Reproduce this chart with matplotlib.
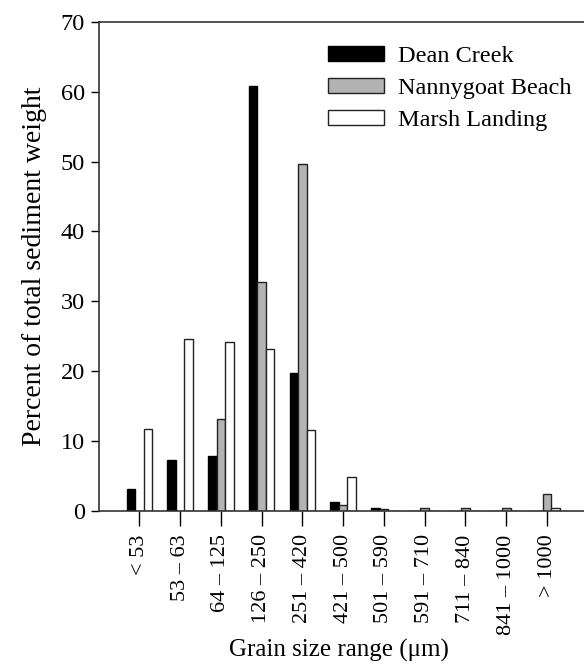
import numpy as np
import matplotlib
matplotlib.use("Agg")
import matplotlib.pyplot as plt

plt.rcParams['font.family'] = ['Liberation Serif', 'DejaVu Serif']

# Grain size classes (um) and percent of total sediment weight
categories = ["< 53", "53 – 63", "64 – 125", "126 – 250", "251 – 420",
              "421 – 500", "501 – 590", "591 – 710", "711 – 840",
              "841 – 1000", "> 1000"]
dean_creek = [3.1, 7.2, 7.9, 60.8, 19.7, 1.25, 0.4, 0.0, 0.0, 0.0, 0.0]
nannygoat_beach = [0.0, 0.0, 13.2, 32.8, 49.7, 0.8, 0.3, 0.4, 0.4, 0.4, 2.4]
marsh_landing = [11.7, 24.6, 24.1, 23.1, 11.5, 4.9, 0.0, 0.0, 0.0, 0.0, 0.4]

x = np.arange(len(categories))
width = 0.21

fig = plt.figure(figsize=(5.84, 6.69), dpi=100)
ax = fig.add_axes([0.1695, 0.2366, 0.83, 0.7305])

ax.bar(x - width, dean_creek, width, color='black', edgecolor='black',
       linewidth=1, label='Dean Creek')
ax.bar(x, nannygoat_beach, width, color='#b3b3b3', edgecolor='#222222',
       linewidth=1, label='Nannygoat Beach')
ax.bar(x + width, marsh_landing, width, color='white', edgecolor='#222222',
       linewidth=1, label='Marsh Landing')

ax.set_xlim(-0.99, 10.9)
ax.set_ylim(0, 70)
ax.set_yticks(range(0, 71, 10))
ax.set_xticks(x)
ax.set_xticklabels(categories, rotation=90, fontsize=16)
ax.tick_params(axis='y', labelsize=17.5, direction='out', length=6, width=1, pad=4)
ax.tick_params(axis='x', direction='out', length=11, width=1, pad=6)

for side in ['left', 'bottom', 'top']:
    ax.spines[side].set_color('#333333')
    ax.spines[side].set_linewidth(1.2)
ax.spines['right'].set_visible(False)

ax.set_ylabel('Percent of total sediment weight', fontsize=20, labelpad=10)
ax.set_xlabel('Grain size range (\u03bcm)', fontsize=18)
ax.xaxis.set_label_coords(0.495, -0.262)

ax.legend(loc='upper left', bbox_to_anchor=(328 / 584, 1 - 46 / 669),
          bbox_transform=fig.transFigure, frameon=False,
          fontsize=17.5, handlelength=2.3, handleheight=0.57, labelspacing=0.45,
          handletextpad=0.57, borderaxespad=0, borderpad=0)

plt.savefig('out.png', dpi=100)
